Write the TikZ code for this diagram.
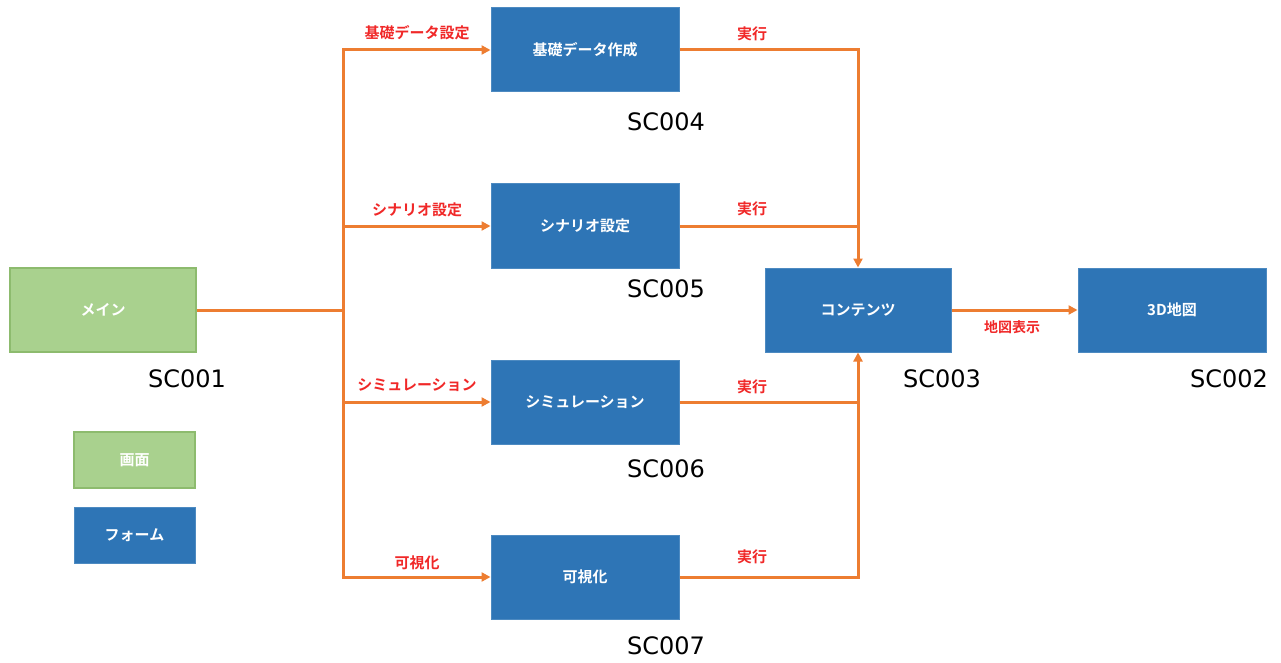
\documentclass[tikz,border=0pt]{standalone}
\usepackage{fontspec}
\newfontfamily\jp{Noto Sans CJK JP}[BoldFont={Noto Sans CJK JP Bold}]
\setmainfont{DejaVu Sans}
\usetikzlibrary{arrows.meta}
\definecolor{orng}{HTML}{ED7D31}
\definecolor{formblue}{HTML}{2E75B6}
\definecolor{gfill}{HTML}{A9D18E}
\definecolor{gdraw}{HTML}{8DBB6E}
\definecolor{lred}{HTML}{F02828}
\tikzset{
  form/.style={draw=formblue!85!white, line width=1pt, fill=formblue, text=white, font=\jp\bfseries\fontsize{15}{18}\selectfont, inner sep=0pt},
  scr/.style={draw=gdraw, line width=1.5pt, fill=gfill, text=white, font=\jp\bfseries\fontsize{15}{18}\selectfont, inner sep=0pt},
  code/.style={font=\fontsize{24}{28}\selectfont, text=black, inner sep=0pt},
  elab/.style={font=\jp\bfseries\fontsize{15}{18}\selectfont, text=lred, inner sep=0pt},
  conn/.style={draw=orng, line width=3pt},
  arr/.style={conn, -{Triangle[length=9pt,width=9pt]}},
}
\begin{document}
\begin{tikzpicture}[x=1pt,y=-1pt]
\useasboundingbox (0,0) rectangle (1281,663);
% boxes
\node[scr, minimum width=186pt, minimum height=84pt] (main) at (103,310) {メイン};
\node[scr, minimum width=121pt, minimum height=56pt] (lscr) at (134.5,460) {画面};
\node[form, minimum width=121pt, minimum height=56pt] (lform) at (134.5,535) {フォーム};
\node[form, minimum width=188pt, minimum height=84pt] (sc4) at (585,50) {基礎データ作成};
\node[form, minimum width=188pt, minimum height=84pt] (sc5) at (585,226) {シナリオ設定};
\node[form, minimum width=188pt, minimum height=84pt] (sc6) at (585,402) {シミュレーション};
\node[form, minimum width=188pt, minimum height=84pt] (sc7) at (585,577) {可視化};
\node[form, minimum width=186pt, minimum height=84pt] (sc3) at (858,310) {コンテンツ};
\node[form, minimum width=188pt, minimum height=84pt] (sc2) at (1172,310) {3D地図};
% codes
\node[code] (c1) at (187,379) {SC001};
\node[code] (c4) at (666,122) {SC004};
\node[code] (c5) at (666,289) {SC005};
\node[code] (c6) at (666,469) {SC006};
\node[code] (c7) at (666,646) {SC007};
\node[code] (c3) at (942,379) {SC003};
\node[code] (c2) at (1229,379) {SC002};
% junctions
\coordinate (tj) at (343,310);
\coordinate (t4) at (343,50);
\coordinate (t5) at (343,226);
\coordinate (t6) at (343,402);
\coordinate (t7) at (343,577);
\coordinate (r4) at (858,50);
\coordinate (r5) at (858,226);
\coordinate (r6) at (858,402);
\coordinate (r7) at (858,577);
% connectors
\draw[conn] (main.east) -- (tj);
\draw[conn, line cap=rect] (t4) -- (t7);
\draw[arr] (t4) -- (sc4.west);
\draw[arr] (t5) -- (sc5.west);
\draw[arr] (t6) -- (sc6.west);
\draw[arr] (t7) -- (sc7.west);
\draw[arr, line join=miter] (sc4.east) -- (r4) -- (sc3.north);
\draw[conn] (sc5.east) -- (r5);
\draw[conn] (sc6.east) -- (r6);
\draw[arr, line join=miter] (sc7.east) -- (r7) -- (sc3.south);
\draw[arr] (sc3.east) -- (sc2.west);
% edge labels
\node[elab] (l4) at (417,33) {基礎データ設定};
\node[elab] (l5) at (417,210) {シナリオ設定};
\node[elab] (l6) at (417,385) {シミュレーション};
\node[elab] (l7) at (417,563) {可視化};
\node[elab] (e4) at (752,34) {実行};
\node[elab] (e5) at (752,209) {実行};
\node[elab] (e6) at (752,387) {実行};
\node[elab] (e7) at (752,557) {実行};
\node[elab, font=\jp\bfseries\fontsize{14}{17}\selectfont] (em) at (1012,327) {地図表示};
\end{tikzpicture}
\end{document}
